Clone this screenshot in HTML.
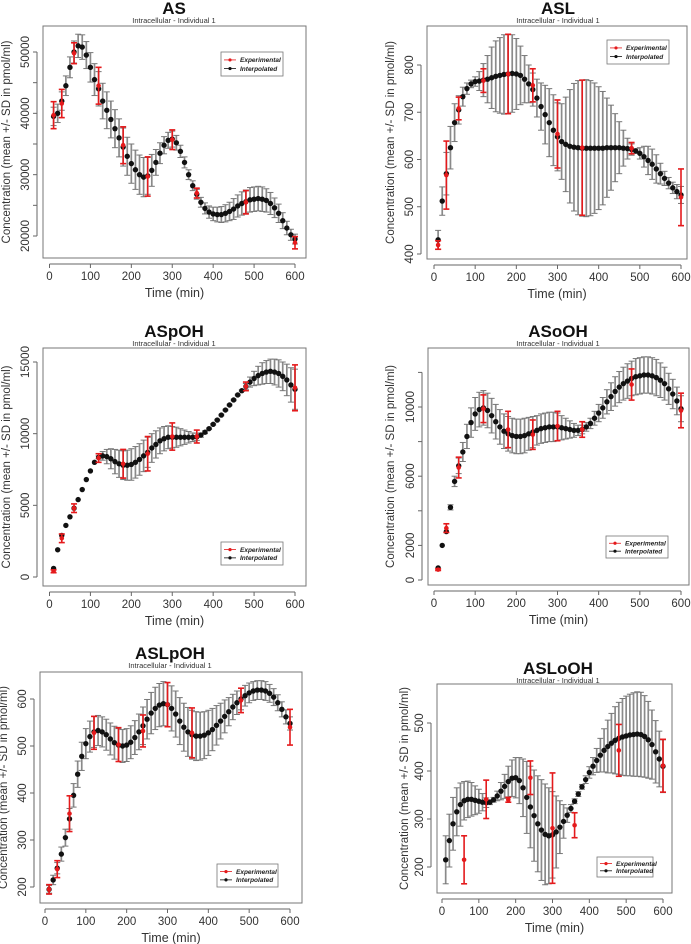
<!DOCTYPE html>
<html><head><meta charset="utf-8">
<style>
html,body{margin:0;padding:0;background:#fff;}
svg{display:block;font-family:"Liberation Sans",Arial,sans-serif;}
</style></head>
<body>
<svg id="fig" width="691" height="944" viewBox="0 0 691 944" xmlns="http://www.w3.org/2000/svg"></svg>
<script>
// ---- shared data ----
const interpTime = [10,20,30,40,50,60,70,80,90,100,110,120,130,140,150,160,170,180,190,200,210,220,230,240,250,260,270,280,290,300,310,320,330,340,350,360,370,380,390,400,410,420,430,440,450,460,470,480,490,500,510,520,530,540,550,560,570,580,590,600];
const expTime = [10,30,60,120,180,240,300,360,480,600];
const expTime6 = [60,120,180,240,300,360,480,600];
const xTicks = [0,100,200,300,400,500,600];

// ---- AS ----
const asExpMean = [39700,41600,49800,44500,34800,29700,35700,27000,25500,18900];
const asExpSd = [2200,2300,1700,3000,3000,3200,1600,800,1900,1000];
const asMean = [39500,40000,42000,44500,47500,50000,51000,50800,49500,47500,45500,44000,42000,40500,39000,37500,36000,34500,33000,31800,30800,30000,29600,29800,30700,32000,33500,34800,35600,35800,35200,33800,32000,30000,28200,26800,25500,24500,23900,23600,23500,23500,23700,24000,24400,24900,25300,25600,25900,26000,26100,26000,25800,25300,24600,23700,22500,21300,20200,19500];
const asSd = [1500,1500,1500,1600,1700,1800,1900,2000,2200,2400,2600,2800,2900,3000,3000,3100,3100,3100,3100,3200,3200,3200,3200,3000,2600,2100,1700,1400,1300,1300,1200,1000,900,800,800,800,800,900,1000,1100,1200,1300,1400,1500,1700,1800,1900,1900,2000,2000,2000,2000,1900,1800,1600,1500,1300,1100,900,800];
const asYTicks = [20000,25000,30000,35000,40000,45000,50000];
const asYLabels = ["20000","","30000","","40000","","50000"];

// ---- ASL ----
const aslExpMean = [419,567,708,767,781,757,654,625,624,520];
const aslExpSd = [9,72,24,25,84,35,72,143,12,60];
const aslMean = [430,512,570,625,678,705,733,750,760,765,766,768,770,773,776,778,780,781,782,781,778,770,760,748,730,712,695,678,662,648,638,632,628,626,625,624,624,624,624,624,624,625,625,625,625,624,623,621,618,613,606,598,590,580,570,560,550,540,532,525];
const aslSd = [20,30,45,45,40,30,20,12,8,10,20,35,50,65,75,80,84,84,82,75,62,50,40,35,40,50,62,72,75,72,80,100,120,135,142,144,145,143,138,130,120,105,90,72,55,38,22,12,5,12,22,30,32,30,22,15,12,12,15,18];
const aslYTicks = [400,500,600,700,800];
const aslYLabels = ["400","500","600","700","800"];

// ---- ASpOH ----
const aspExpMean = [400,2700,4800,8300,7900,8600,9800,9800,13300,13200];
const aspExpSd = [100,300,300,300,1000,1200,950,450,300,1600];
const aspMean = [600,1900,2900,3600,4200,4800,5400,6100,6800,7400,8000,8350,8450,8400,8250,8050,7900,7800,7800,7850,8000,8200,8450,8700,9000,9250,9500,9650,9750,9750,9750,9750,9750,9750,9750,9780,9900,10100,10350,10650,10950,11300,11650,12000,12350,12700,13000,13300,13600,13850,14050,14200,14300,14350,14300,14200,14000,13750,13400,13100];
const aspSd = [0,0,0,0,0,0,0,0,0,0,0,100,300,500,700,850,950,1000,1050,1100,1100,1100,1100,1050,1000,950,900,850,800,750,700,600,500,400,300,250,150,100,50,50,50,50,50,50,50,50,50,200,350,500,650,750,800,850,900,950,1000,1100,1200,1400];
const aspYTicks = [0,5000,10000,15000];
const aspYLabels = ["0","5000","10000","15000"];

// ---- ASoOH ----
const asoExpMean = [600,3000,6500,9900,8700,8400,8900,8700,11300,9800];
const asoExpSd = [50,250,600,800,1050,850,850,450,900,1000];
const asoMean = [700,2000,2800,4200,5700,6600,7400,8300,9100,9600,9850,9950,9800,9500,9150,8850,8600,8450,8350,8300,8300,8350,8450,8550,8650,8750,8800,8850,8850,8850,8800,8750,8700,8650,8650,8700,8850,9050,9350,9650,9950,10300,10600,10900,11150,11350,11500,11650,11750,11800,11850,11850,11800,11700,11550,11350,11050,10750,10350,9900];
const asoSd = [0,0,0,150,300,450,550,700,850,950,1000,1000,1000,1000,1000,1000,1000,1000,1000,1000,1000,1000,950,900,850,850,850,850,850,800,700,600,500,400,300,250,250,300,400,500,600,700,800,850,900,950,1000,1000,1050,1050,1050,1050,1050,1050,1000,950,900,850,800,750];
const asoYTicks = [0,2000,4000,6000,8000,10000,12000];
const asoYLabels = ["0","2000","","6000","","10000",""];

// ---- ASLpOH ----
const alpExpMean = [195,238,356,528,503,532,588,528,597,540];
const alpExpSd = [10,18,38,35,36,34,47,53,26,38];
const alpMean = [195,215,240,270,305,345,395,440,478,505,520,530,533,530,524,515,507,502,500,502,508,518,530,543,557,570,580,587,590,588,580,568,553,540,530,524,521,521,523,528,535,544,553,563,573,583,592,600,607,613,617,619,619,617,612,604,592,578,562,548];
const alpSd = [8,10,12,15,18,22,25,28,30,32,33,33,32,32,33,34,35,35,35,35,35,36,38,40,42,44,45,46,47,47,48,49,50,51,52,52,52,51,50,48,45,42,38,35,30,27,25,23,22,21,20,20,20,20,19,18,17,16,15,14];
const alpYTicks = [200,300,400,500,600];
const alpYLabels = ["200","300","400","500","600"];

// ---- ASLoOH ----
const aloExpMean = [215,341,340,386,281,287,443,411];
const aloExpSd = [50,40,5,35,115,26,54,55];
const aloMean = [215,255,290,315,330,338,341,341,339,337,335,334,335,340,348,358,368,378,385,386,380,365,345,325,307,290,277,268,265,267,273,283,295,308,322,337,352,367,382,397,410,422,433,443,451,458,464,468,471,473,475,476,477,476,472,465,455,440,425,410];
const aloSd = [50,55,55,50,45,40,38,35,30,25,18,10,5,5,10,18,25,32,38,42,48,60,75,85,95,100,105,105,100,90,75,55,35,15,8,5,5,5,8,12,18,25,35,45,55,62,70,75,80,83,85,87,88,88,85,80,72,65,58,55];
const aloYTicks = [200,300,400,500];
const aloYLabels = ["200","300","400","500"];

const NS = "http://www.w3.org/2000/svg";
const svg = document.getElementById('fig');
function el(tag, attrs, parent, text){
  const e = document.createElementNS(NS, tag);
  for (const k in attrs) e.setAttribute(k, attrs[k]);
  if (text !== undefined) e.textContent = text;
  (parent || svg).appendChild(e);
  return e;
}

function panel(cfg){
  const g = el('g', {});
  
  
  const xS = t => cfg.x0 + (t - 0) * (cfg.x600 - cfg.x0) / 600;
  const yS = v => cfg.ya + (v - cfg.va) * (cfg.yb - cfg.ya) / (cfg.vb - cfg.va);

  const t = el('text', {x: cfg.tx, y: cfg.ty, 'text-anchor':'middle', 'font-size':'17', 'font-weight':'bold', fill:'#111'}, g, cfg.title);
  
  
  const st = el('text', {x: cfg.tx, y: cfg.ty + 9, 'text-anchor':'middle', 'font-size':'7.5', fill:'#333'}, g, 'Intracellular - Individual 1');
  
  

  const box = el('rect', {x: cfg.bx1, y: cfg.by1, width: cfg.bx2 - cfg.bx1, height: cfg.by2 - cfg.by1, fill:'none', stroke:'#777', 'stroke-width':'1'}, g);
  
  

  const xa = el('g', {}, g);
  
  
  el('line', {x1: xS(0), x2: xS(600), y1: cfg.by2 + 6, y2: cfg.by2 + 6, stroke:'#666'}, xa);
  xTicks.forEach(v => {
    el('line', {x1: xS(v), x2: xS(v), y1: cfg.by2 + 6, y2: cfg.by2 + 10, stroke:'#666'}, xa);
    const lb = el('text', {x: xS(v), y: cfg.by2 + 22, 'text-anchor':'middle', 'font-size':'11.5', fill:'#333'}, xa, String(v));
    
    
  });
  const xt = el('text', {x: (cfg.bx1 + cfg.bx2) / 2, y: cfg.by2 + 39, 'text-anchor':'middle', 'font-size':'12.5', fill:'#333'}, g, 'Time (min)');
  
  

  const ya = el('g', {}, g);
  
  
  const yt0 = cfg.yTicks[0], yt1 = cfg.yTicks[cfg.yTicks.length - 1];
  el('line', {x1: cfg.bx1 - 6, x2: cfg.bx1 - 6, y1: yS(yt0), y2: yS(yt1), stroke:'#666'}, ya);
  cfg.yTicks.forEach((v, i) => {
    el('line', {x1: cfg.bx1 - 10, x2: cfg.bx1 - 6, y1: yS(v), y2: yS(v), stroke:'#666'}, ya);
    if (cfg.yLabels[i]) {
      const lx = cfg.bx1 - 14, ly = yS(v);
      const lb = el('text', {x: lx, y: ly, 'text-anchor':'middle', 'font-size':'11.5', fill:'#333', transform:`rotate(-90 ${lx} ${ly})`}, ya, cfg.yLabels[i]);
      
      
    }
  });
  const ytx = cfg.ytx, yty = (cfg.by1 + cfg.by2) / 2;
  const ytl = el('text', {x: ytx, y: yty, 'text-anchor':'middle', 'font-size':'11.5', fill:'#333', transform:`rotate(-90 ${ytx} ${yty})`}, g, 'Concentration (mean +/- SD in pmol/ml)');
  
  

  const ig = el('g', {}, g);
  
  
  cfg.tI.forEach((tt, i) => {
    const x = xS(tt), m = cfg.mean[i], s = cfg.sd[i];
    if (s > 0) {
      el('line', {x1:x, x2:x, y1:yS(m - s), y2:yS(m + s), stroke:'#8a8a8a', 'stroke-width':'1.7'}, ig);
      el('line', {x1:x - 3, x2:x + 3, y1:yS(m - s), y2:yS(m - s), stroke:'#777', 'stroke-width':'1'}, ig);
      el('line', {x1:x - 3, x2:x + 3, y1:yS(m + s), y2:yS(m + s), stroke:'#777', 'stroke-width':'1'}, ig);
    }
  });
  cfg.tI.forEach((tt, i) => {
    const p = el('circle', {cx: xS(tt), cy: yS(cfg.mean[i]), r: 2.7, fill:'#111'}, ig);
    
    
  });

  const eg = el('g', {}, g);
  
  
  cfg.tE.forEach((tt, i) => {
    const x = xS(tt), m = cfg.eMean[i], s = cfg.eSd[i];
    el('line', {x1:x, x2:x, y1:yS(m - s), y2:yS(m + s), stroke:'#e41a1c', 'stroke-width':'1.6'}, eg);
    el('line', {x1:x - 3, x2:x + 3, y1:yS(m - s), y2:yS(m - s), stroke:'#e41a1c', 'stroke-width':'1.6'}, eg);
    el('line', {x1:x - 3, x2:x + 3, y1:yS(m + s), y2:yS(m + s), stroke:'#e41a1c', 'stroke-width':'1.6'}, eg);
    const p = el('circle', {cx:x, cy:yS(m), r:2.3, fill:'#e41a1c'}, eg);
    
    
  });

  const lg = el('g', {}, g);
  
  
  const L = cfg.leg;
  el('rect', {x:L[0], y:L[1], width:L[2], height:L[3], fill:'#fff', stroke:'#777', 'stroke-width':'0.8'}, lg);
  const rows = [['Experimental', '#e41a1c'], ['Interpolated', '#111']];
  rows.forEach((r, i) => {
    const yy = L[1] + L[3] * (0.33 + i * 0.36);
    const e = el('g', {}, lg);
    
    
    el('line', {x1:L[0] + 3, x2:L[0] + 15, y1:yy, y2:yy, stroke:r[1], 'stroke-width':'0.8'}, e);
    el('circle', {cx:L[0] + 9, cy:yy, r:1.6, fill:r[1]}, e);
    el('text', {x:L[0] + 19, y:yy + 2.3, 'font-size':'6.5', 'font-weight':'bold', 'font-style':'italic', fill:'#222'}, e, r[0]);
  });
}

panel({key:'as', title:'AS', tx:174, ty:14, bx1:43, bx2:306, by1:26, by2:258, x0:49.5, x600:295, ya:52, va:50000, yb:236, vb:20000, ytx:10, yTicks:asYTicks, yLabels:asYLabels, tI:interpTime, mean:asMean, sd:asSd, tE:expTime, eMean:asExpMean, eSd:asExpSd, leg:[221,52,62,24]});
panel({key:'asl', title:'ASL', tx:558, ty:14, bx1:427, bx2:687, by1:26, by2:259, x0:434, x600:681, ya:65, va:800, yb:254, vb:400, ytx:394, yTicks:aslYTicks, yLabels:aslYLabels, tI:interpTime, mean:aslMean, sd:aslSd, tE:expTime, eMean:aslExpMean, eSd:aslExpSd, leg:[607,40,62,24]});
panel({key:'aspoh', title:'ASpOH', tx:174, ty:337, bx1:43, bx2:306, by1:348, by2:586, x0:49.5, x600:295, ya:362, va:15000, yb:577, vb:0, ytx:10, yTicks:aspYTicks, yLabels:aspYLabels, tI:interpTime, mean:aspMean, sd:aspSd, tE:expTime, eMean:aspExpMean, eSd:aspExpSd, leg:[221,542,62,23]});
panel({key:'asooh', title:'ASoOH', tx:558, ty:337, bx1:428, bx2:689, by1:348, by2:585, x0:434, x600:681, ya:407, va:10000, yb:580, vb:0, ytx:394, yTicks:asoYTicks, yLabels:asoYLabels, tI:interpTime, mean:asoMean, sd:asoSd, tE:expTime, eMean:asoExpMean, eSd:asoExpSd, leg:[606,536,62,22]});
panel({key:'aslpoh', title:'ASLpOH', tx:170, ty:659, bx1:40, bx2:302, by1:672, by2:903, x0:45, x600:290, ya:699, va:600, yb:887, vb:200, ytx:7, yTicks:alpYTicks, yLabels:alpYLabels, tI:interpTime, mean:alpMean, sd:alpSd, tE:expTime, eMean:alpExpMean, eSd:alpExpSd, leg:[217,864,61,23]});
panel({key:'asloh', title:'ASLoOH', tx:558, ty:674, bx1:437, bx2:672, by1:684, by2:893, x0:442, x600:663, ya:723, va:500, yb:867, vb:200, ytx:408, yTicks:aloYTicks, yLabels:aloYLabels, tI:interpTime, mean:aloMean, sd:aloSd, tE:expTime6, eMean:aloExpMean, eSd:aloExpSd, leg:[597,857,56,20]});
</script>
</body></html>
